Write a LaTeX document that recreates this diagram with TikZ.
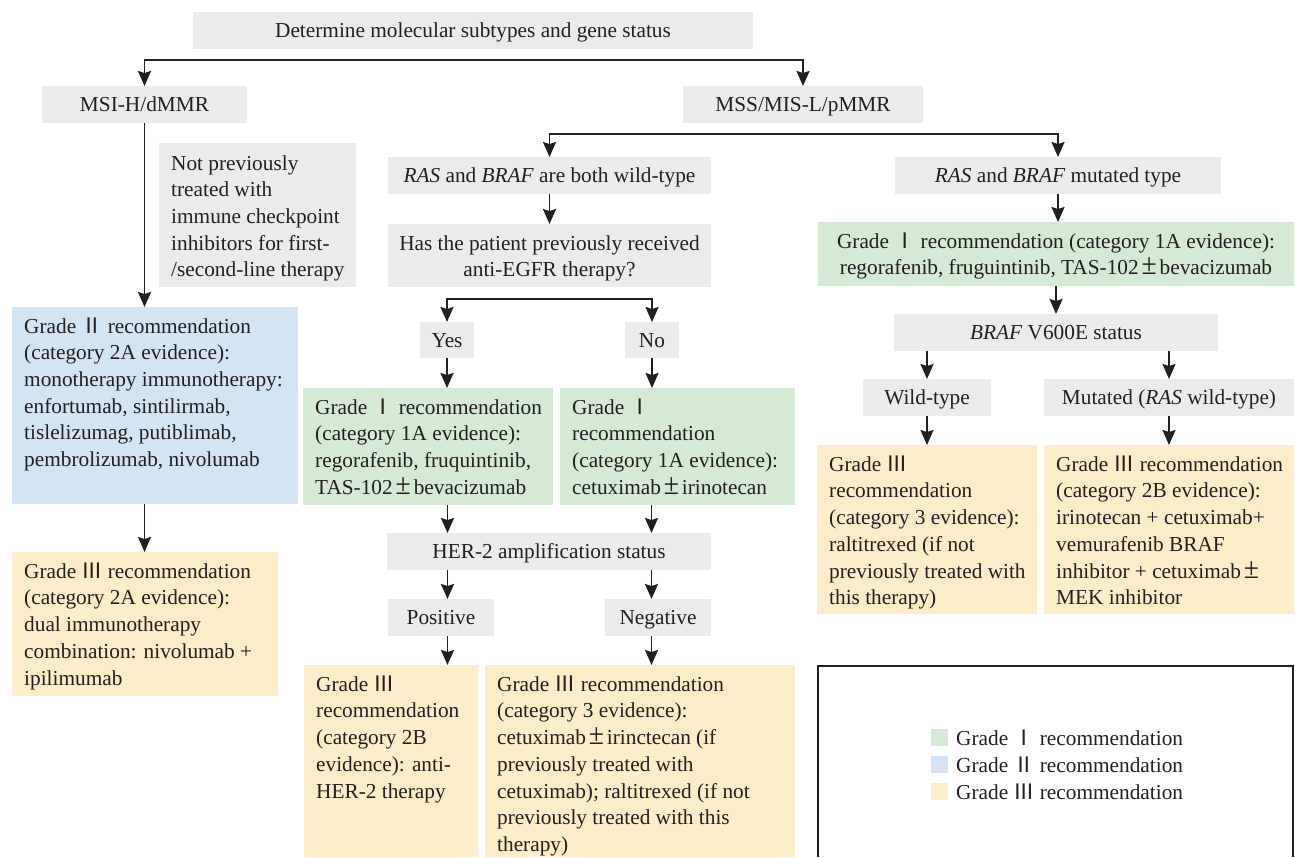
\documentclass[tikz,border=0pt]{standalone}
\usepackage{fontspec}
\setmainfont{Liberation Serif}
\newfontfamily\cjk{Noto Sans CJK SC}
\usetikzlibrary{arrows.meta}
\definecolor{cgray}{HTML}{EBEBEC}
\definecolor{cgreen}{HTML}{D5E9D5}
\definecolor{cblue}{HTML}{D3E4F4}
\definecolor{corange}{HTML}{FDECC8}
\definecolor{ink}{HTML}{231F20}
\newcommand\gI{\makebox[21pt]{\cjk Ⅰ}}
\newcommand\gII{\makebox[21pt]{\cjk Ⅱ}}
\newcommand\gIII{\makebox[21pt]{\cjk Ⅲ}}
\newcommand\pmw{\makebox[21pt]{\scalebox{1.3}[1.4]{±}}}
\newcommand\fs{\fontsize{21.3}{26.7}\selectfont}
\tikzset{
  box/.style={inner sep=0pt, outer sep=0pt, anchor=north west},
  graybox/.style={box, fill=cgray, text=ink, font=\fs, text height=14.5pt, text depth=0.5pt},
  greenbox/.style={box, fill=cgreen},
  bluebox/.style={box, fill=cblue},
  orangebox/.style={box, fill=corange},
  tl/.style={inner sep=0pt, anchor=north west, align=left, font=\fs, text=ink},
  tc/.style={inner sep=0pt, anchor=north, align=center, font=\fs, text=ink},
  arr/.style={draw=ink, line width=1.9pt, -{Stealth[length=15pt,width=13pt,inset=2pt]}},
}
\begin{document}
\begin{tikzpicture}[x=1pt,y=-1pt]
\useasboundingbox (0,0) rectangle (1297,857);

% ---- gray decision boxes ----
\node[graybox, minimum width=560pt, minimum height=37pt] (top) at (193,12) {Determine molecular subtypes and gene status};
\node[graybox, minimum width=205pt, minimum height=37pt] (msi) at (42,86) {MSI-H/dMMR};
\node[graybox, minimum width=240pt, minimum height=37pt] (mss) at (683,86) {MSS/MIS-L/pMMR};
\node[graybox, minimum width=323pt, minimum height=37pt] (raswt) at (388,157) {\textit{RAS} and \textit{BRAF} are both wild-type};
\node[graybox, minimum width=326pt, minimum height=37pt] (rasmut) at (895,157) {\textit{RAS} and \textit{BRAF} mutated type};
\node[box, fill=cgray, minimum width=323pt, minimum height=63pt] (has) at (388,224) {};
\node[tc] (hasT) at (549.5,231.3) {\strut Has the patient previously received\\anti-EGFR therapy?};
\node[box, fill=cgray, minimum width=197pt, minimum height=144pt] (np) at (159,143) {};
\node[tl] (npT) at (171,151.3) {\strut Not previously\\treated with\\immune checkpoint\\inhibitors for first-\\/second-line therapy};
\node[graybox, minimum width=54pt, minimum height=36pt] (yes) at (420,322) {Yes};
\node[graybox, minimum width=54pt, minimum height=36pt] (no) at (625,322) {No};
\node[graybox, minimum width=324pt, minimum height=37pt] (her) at (387,533) {HER-2 amplification status};
\node[graybox, minimum width=106pt, minimum height=37pt] (pos) at (388,599) {Positive};
\node[graybox, minimum width=106pt, minimum height=37pt] (neg) at (605,599) {Negative};
\node[graybox, minimum width=324pt, minimum height=37pt] (braf) at (894,314) {\textit{BRAF} V600E status};
\node[graybox, minimum width=128pt, minimum height=37pt] (wt) at (863,379) {Wild-type};
\node[graybox, minimum width=250pt, minimum height=37pt] (mut) at (1044,379) {Mutated (\textit{RAS} wild-type)};

% ---- recommendation boxes ----
\node[bluebox, minimum width=286pt, minimum height=197pt] (blue) at (12,307) {};
\node[tl] (blueT) at (24,314.3) {\strut Grade \gII{} recommendation\\(category 2A evidence):\\monotherapy immunotherapy:\\enfortumab, sintilirmab,\\tislelizumag, putiblimab,\\pembrolizumab, nivolumab};

\node[orangebox, minimum width=266pt, minimum height=144pt] (orL) at (12,552) {};
\node[tl] (orLT) at (24,559.3) {\strut Grade \gIII{} recommendation\\(category 2A evidence):\\dual immunotherapy\\combination: nivolumab +\\ipilimumab};

\node[greenbox, minimum width=250pt, minimum height=117pt] (grM) at (303,388) {};
\node[tl] (grMT) at (315,395.3) {\strut Grade \gI{} recommendation\\(category 1A evidence):\\regorafenib, fruquintinib,\\TAS-102\pmw bevacizumab};

\node[greenbox, minimum width=235pt, minimum height=117pt] (grMR) at (560,388) {};
\node[tl] (grMRT) at (572,395.3) {\strut Grade \gI\\recommendation\\(category 1A evidence):\\cetuximab\pmw irinotecan};

\node[orangebox, minimum width=174pt, minimum height=192pt] (orP) at (304,665) {};
\node[tl] (orPT) at (316,672.3) {\strut Grade \gIII\\recommendation\\(category 2B\\evidence): anti-\\HER-2 therapy};

\node[orangebox, minimum width=310pt, minimum height=192pt] (orN) at (485,665) {};
\node[tl] (orNT) at (497,672.3) {\strut Grade \gIII{} recommendation\\(category 3 evidence):\\cetuximab\pmw irinctecan (if\\previously treated with\\cetuximab); raltitrexed (if not\\previously treated with this\\therapy)};

\node[greenbox, minimum width=476pt, minimum height=64pt] (grR) at (818,222) {};
\node[tc] (grRT) at (1056,229.3) {\strut Grade \gI{} recommendation (category 1A evidence):\\regorafenib, fruguintinib, TAS-102\pmw bevacizumab};

\node[orangebox, minimum width=220pt, minimum height=169pt] (orWT) at (817,445) {};
\node[tl] (orWTT) at (829,452.3) {\strut Grade \gIII\\recommendation\\(category 3 evidence):\\raltitrexed (if not\\previously treated with\\this therapy)};

\node[orangebox, minimum width=250pt, minimum height=169pt] (orMut) at (1044,445) {};
\node[tl] (orMutT) at (1056,452.3) {\strut Grade \gIII{} recommendation\\(category 2B evidence):\\irinotecan + cetuximab+\\vemurafenib BRAF\\inhibitor + cetuximab\pmw\\MEK inhibitor};

% ---- connectors ----
\coordinate (br1) at (472,60);
\coordinate (br2) at (803,134);
\coordinate (br3) at (550,299);
\coordinate (xL) at (447.5,0);
\coordinate (xR) at (651.5,0);
\draw[arr] (br1) -| (msi.north);
\draw[arr] (br1) -| (mss.north);
\draw[arr] (msi.south) -- (msi.south |- blue.north);
\draw[arr] (msi.south |- blue.south) -- (msi.south |- orL.north);
\draw[arr] (br2) -| (raswt.north);
\draw[arr] (br2) -| (rasmut.north);
\draw[arr] (raswt.south) -- (has.north);
\draw[arr] (br3) -| (yes.north);
\draw[arr] (br3) -| (no.north);
\draw[arr] (yes.south) -- (yes.south |- grM.north);
\draw[arr] (no.south) -- (no.south |- grMR.north);
\draw[arr] (grM.south -| xL) -- (her.north -| xL);
\draw[arr] (grMR.south -| xR) -- (her.north -| xR);
\draw[arr] (her.south -| xL) -- (pos.north -| xL);
\draw[arr] (her.south -| xR) -- (neg.north -| xR);
\draw[arr] (pos.south -| xL) -- (orP.north -| xL);
\draw[arr] (neg.south -| xR) -- (orN.north -| xR);
\draw[arr] (rasmut.south) -- (rasmut.south |- grR.north);
\draw[arr] (grR.south) -- (grR.south |- braf.north);
\draw[arr] (wt.north |- braf.south) -- (wt.north);
\draw[arr] (mut.north |- braf.south) -- (mut.north);
\draw[arr] (wt.south) -- (wt.south |- orWT.north);
\draw[arr] (mut.south) -- (mut.south |- orMut.north);

% ---- legend ----
\coordinate (lgA) at (818,857);
\coordinate (lgB) at (818,666);
\coordinate (lgC) at (1293,666);
\coordinate (lgD) at (1293,857);
\draw[draw=ink, line width=1.2pt] (lgA) -- (lgB) -- (lgC) -- (lgD);
\node[box, fill=cgreen, minimum width=17pt, minimum height=17pt] (lg1) at (931,729) {};
\node[box, fill=cblue, minimum width=17pt, minimum height=17pt] (lg2) at (931,756) {};
\node[box, fill=corange, minimum width=17pt, minimum height=17pt] (lg3) at (931,783) {};
\node[inner sep=0pt, anchor=base west, font=\fs, text=ink] (lt1) at (956,745) {Grade \gI{} recommendation};
\node[inner sep=0pt, anchor=base west, font=\fs, text=ink] (lt2) at (956,772) {Grade \gII{} recommendation};
\node[inner sep=0pt, anchor=base west, font=\fs, text=ink] (lt3) at (956,799) {Grade \gIII{} recommendation};
\end{tikzpicture}
\end{document}
